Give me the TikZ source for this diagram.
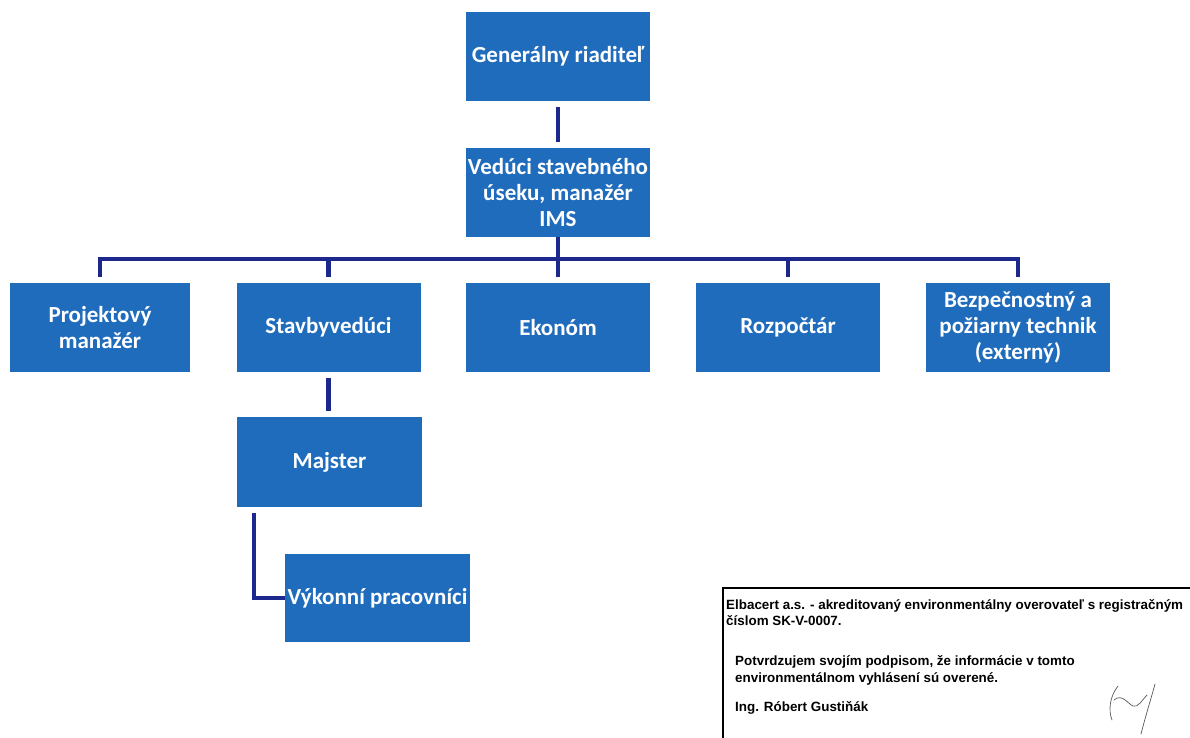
\documentclass[tikz,border=0pt]{standalone}
\usepackage{fontspec}
\newfontfamily\carlito{Carlito}
\newfontfamily\arialf{Liberation Sans}
\usetikzlibrary{calc}
\definecolor{boxblue}{RGB}{32,108,188}
\definecolor{navy}{RGB}{28,40,140}
\begin{document}
\begin{tikzpicture}[x=1pt,y=-1pt,
  obox/.style={fill=boxblue, text=white, inner sep=0pt, align=center,
    minimum width=184pt, minimum height=89pt,
    font=\carlito\bfseries\fontsize{23}{26}\selectfont},
  conn/.style={draw=navy, line width=4.5pt, line join=miter},
  cert/.style={anchor=base west, inner sep=0pt, font=\arialf\bfseries\fontsize{13.4}{15}\selectfont}]
\useasboundingbox (0,0) rectangle (1190,738);
\fill[white] (0,0) rectangle (1190,738);
% boxes
\node[obox] (gen) at (558,56.5) {Generálny riaditeľ};
\node[obox] (ved) at (558,192.5) {Vedúci stavebného\\úseku, manažér\\IMS};
\node[obox, minimum width=180pt] (proj) at (100,327.5) {Projektový\\manažér};
\node[obox] (stav) at (328.5,327.5) {Stavbyvedúci};
\node[obox] (eko) at (558,327.5) {Ekonóm};
\node[obox] (roz) at (788,327.5) {Rozpočtár};
\node[obox] (bez) at (1018,327.5) {Bezpečnostný a\\požiarny technik\\(externý)};
\node[obox, minimum width=185pt, minimum height=90pt] (maj) at (329.5,462) {Majster};
\node[obox, minimum width=185pt, minimum height=88pt] (vyk) at (377.5,598) {Výkonní pracovníci};
% connectors
\coordinate (bar) at (558,259);
\draw[conn] ($(gen.south)+(0,6)$) -- ($(ved.north)+(0,-6)$);
\draw[conn] ($(ved.south)+(0,0)$) -- (ved.south |- bar);
\draw[conn] ($(proj.north)+(0,-6)$) -- (proj.north |- bar) -- (bez.north |- bar) -- ($(bez.north)+(0,-6)$);
\draw[conn] (stav.north |- bar) -- ($(stav.north)+(0,-6)$);
\draw[conn] (eko.north |- bar) -- ($(eko.north)+(0,-6)$);
\draw[conn] (roz.north |- bar) -- ($(roz.north)+(0,-6)$);
\draw[conn] ($(stav.south)+(0,6)$) -- ($(stav.south |- maj.north)+(0,-6)$);
\draw[conn] ($(maj.south west)+(17,6)$) |- (vyk.west);
% certificate box
\draw[line width=2.5pt, black] (1195,588) -- (723,588) -- (723,745);
\node[cert] (c1) at (726,609) {Elbacert a.s. - akreditovaný environmentálny overovateľ s registračným};
\node[cert] (c2) at (726,625) {číslom SK-V-0007.};
\node[cert] (c3) at (735,665) {Potvrdzujem svojím podpisom, že informácie v tomto};
\node[cert] (c4) at (735,682) {environmentálnom vyhlásení sú overené.};
\node[cert] (c5) at (735,711) {Ing. Róbert Gustiňák};
% signature
\draw[gray!70!black, line width=0.7pt, line cap=round]
  (1118,686) .. controls (1110,696) and (1108,710) .. (1112,720);
\draw[gray!70!black, line width=0.7pt, line cap=round]
  (1114,700) .. controls (1122,693) and (1128,704) .. (1133,706) .. controls (1138,708) and (1142,700) .. (1147,695);
\draw[gray!70!black, line width=0.7pt, line cap=round]
  (1155,684) .. controls (1150,702) and (1145,718) .. (1141,734);
\end{tikzpicture}
\end{document}
